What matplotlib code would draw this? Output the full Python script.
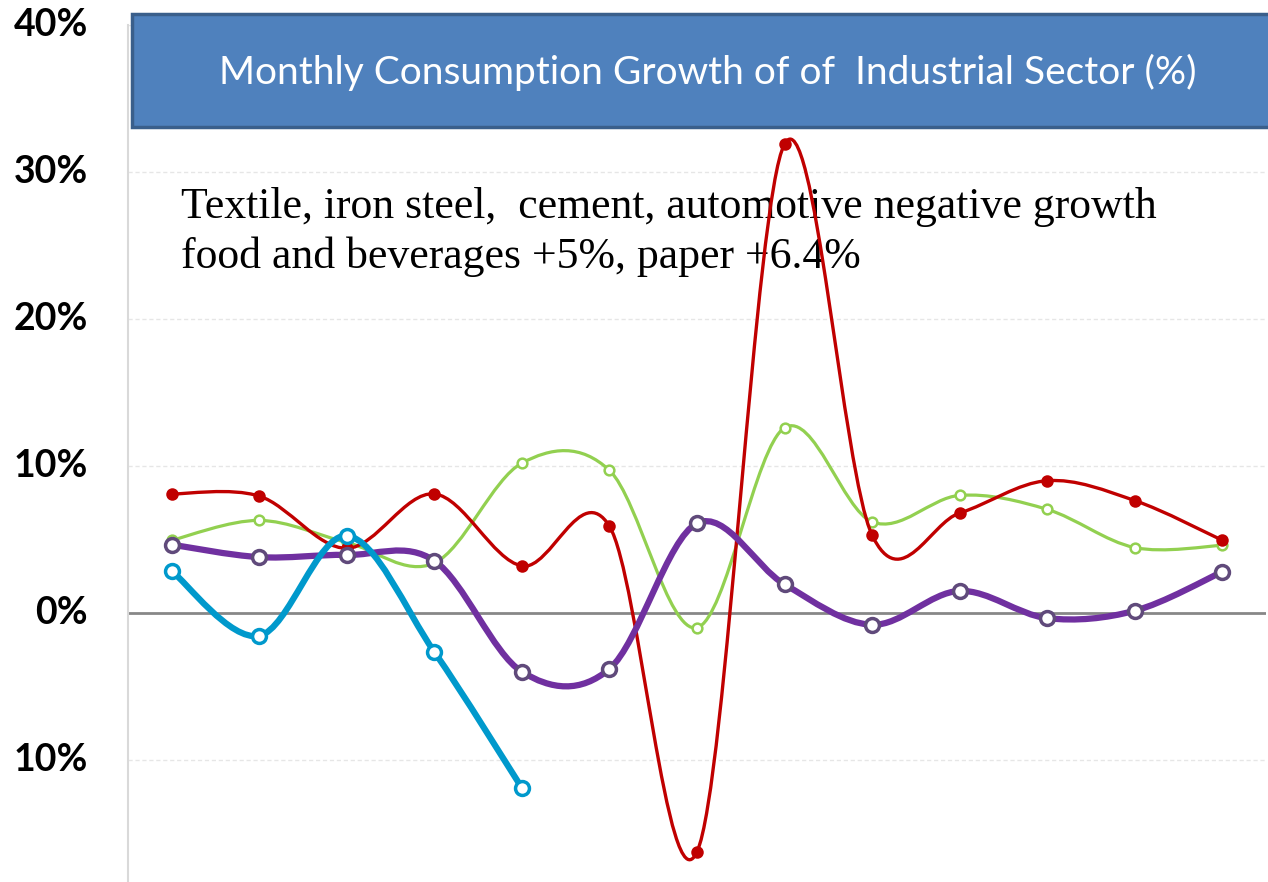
import matplotlib.pyplot as plt
from matplotlib.path import Path
from matplotlib.patches import PathPatch, Rectangle

# values (% growth per month)
months = list(range(13))
red_vals = [8.1, 7.95, 4.4, 8.1, 3.2, 5.9, -16.25, 31.9, 5.3, 6.8, 9.0, 7.65, 4.95]
green_vals = [4.95, 6.3, 4.8, 3.4, 10.2, 9.7, -1.0, 12.6, 6.2, 8.0, 7.05, 4.45, 4.6]
purple_vals = [4.65, 3.8, 3.95, 3.55, -4.0, -3.8, 6.1, 1.95, -0.8, 1.5, -0.35, 0.15, 2.8]
blue_vals = [2.85, -1.55, 5.25, -2.65, -11.9]

yticks = [-10, 0, 10, 20, 30, 40]
ytick_labels = ['10%', '0%', '10%', '20%', '30%', '40%']

title = 'Monthly Consumption Growth of of  Industrial Sector (%)'
note = ('Textile, iron steel,  cement, automotive negative growth\n'
        'food and beverages +5%, paper +6.4%')


def smooth_path(xs, ys):
    # Excel-like smoothed line: cubic bezier through every point
    pts = list(zip(xs, ys))
    n = len(pts)
    verts = [pts[0]]
    codes = [Path.MOVETO]
    for i in range(n - 1):
        p0 = pts[i - 1] if i > 0 else pts[i]
        p1 = pts[i]
        p2 = pts[i + 1]
        p3 = pts[i + 2] if i + 2 < n else pts[i + 1]
        c1 = (p1[0] + (p2[0] - p0[0]) / 6, p1[1] + (p2[1] - p0[1]) / 6)
        c2 = (p2[0] - (p3[0] - p1[0]) / 6, p2[1] - (p3[1] - p1[1]) / 6)
        verts += [c1, c2, p2]
        codes += [Path.CURVE4] * 3
    return Path(verts, codes)


W, H = 1268, 882
fig = plt.figure(figsize=(W / 100, H / 100), dpi=100)
ax = fig.add_axes([128 / W, 0, (1266 - 128) / W, (H - 25) / H])
ax.set_xlim(-0.5, 12.5)
ax.set_ylim(-18.3, 40)
ax.set_xticks([])
ax.set_yticks(yticks)
ax.set_yticklabels([])
for s in ['top', 'right', 'bottom']:
    ax.spines[s].set_visible(False)
ax.spines['left'].set_color('#d9d9d9')
ax.spines['left'].set_linewidth(1.5)
ax.tick_params(left=False)

for v in yticks:
    if v == 0:
        ax.axhline(0, color='#878787', lw=2, zorder=1)
    else:
        ax.axhline(v, color='#e6e6e6', lw=1, ls=(0, (3, 2)), zorder=1)

# tick labels as text, right aligned near the axis
for v, lab in zip(yticks, ytick_labels):
    ax.text(-0.5 - 40 / 87.5, v, lab, ha='right', va='center', fontsize=27,
            fontweight='bold', family='Lato', clip_on=False)

ax.text(0.1, 29.0, note, ha='left', va='top', fontsize=31.5,
        family='Liberation Serif', linespacing=1.3, zorder=2)

series = [
    (months, green_vals, '#92d050', 2.3, 'white', '#92d050', 7, 1.8, 3),
    (months, red_vals, '#c00000', 2.4, '#c00000', '#c00000', 7.5, 1.5, 4),
    (months, purple_vals, '#7030a0', 4.5, 'white', '#604a7b', 10, 2.5, 5),
    (months[:len(blue_vals)], blue_vals, '#0099cc', 4.5, 'white', '#0099cc', 10, 2.5, 6),
]
for xs, ys, col, lw, mfc, mec, ms, mew, z in series:
    patch = PathPatch(smooth_path(xs, ys), fill=False, edgecolor=col, lw=lw,
                      capstyle='round', joinstyle='round', zorder=z)
    ax.add_patch(patch)
    ax.plot(xs, ys, ls='none', marker='o', ms=ms, mfc=mfc, mec=mec, mew=mew,
            zorder=z + 0.5)

# title box
box = Rectangle((132 / W, (H - 127) / H), (W - 132 + 10) / W, 113 / H,
                transform=fig.transFigure, facecolor='#4f81bd',
                edgecolor='#3a5f8b', lw=2.5, zorder=10)
fig.patches.append(box)
fig.text(708 / W, (H - 72) / H, title, ha='center', va='center', color='white',
         fontsize=28, family='Lato', zorder=11)

fig.savefig('out.png', dpi=100)
